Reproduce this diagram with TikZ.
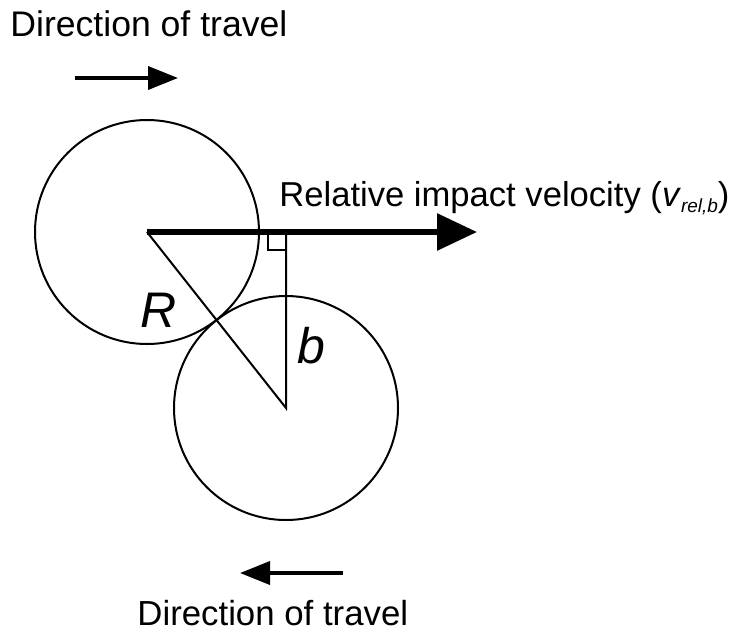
\documentclass[tikz,border=0pt]{standalone}
\usepackage{fontspec}
\setmainfont{Liberation Sans}
\usetikzlibrary{arrows.meta}
\tikzset{
  lbl/.style={inner sep=0pt, font=\fontsize{17.8}{20}\selectfont},
  sym/.style={inner sep=0pt, font=\fontsize{25}{30}\selectfont\itshape},
  ball/.style={circle, draw, line width=1pt, minimum size=112pt, inner sep=0pt},
  thinline/.style={line width=1pt},
  travel/.style={line width=1.8pt, -{Triangle[length=15pt, width=11.5pt]}},
  impact/.style={line width=3pt, -{Triangle[length=20pt, width=18pt]}}
}
\begin{document}
\begin{tikzpicture}[x=0.5pt, y=-0.5pt]
    \useasboundingbox (0,0) rectangle (731,633);
    % Direction of travel (top)
    \node[lbl, anchor=base west] (toptxt) at (10,36) {Direction of travel};
    \coordinate (topS) at (75,78);
    \coordinate (topE) at (178,78);
    \draw[travel] (topS) -- (topE);
    % Direction of travel (bottom)
    \node[lbl, anchor=base west, font=\fontsize{17.4}{20}\selectfont] (bottxt) at (137,625) {Direction of travel};
    \coordinate (botS) at (343,573);
    \coordinate (botE) at (240,573);
    \draw[travel] (botS) -- (botE);
    % Spheres
    \coordinate (c1) at (147,232);
    \coordinate (c2) at (286,408);
    \node[ball] (ball1) at (c1) {};
    \node[ball] (ball2) at (c2) {};
    % R and b
    \coordinate (foot) at (c2 |- c1);
    \draw[thinline] (c1) -- (c2) -- (foot);
    \draw[thinline] ([xshift=-9pt]foot) -- ([xshift=-9pt, yshift=-9pt]foot) -- ([yshift=-9pt]foot);
    \node[sym, anchor=base west] (rlbl) at (140,327) {R};
    \node[sym, anchor=base west] (blbl) at (297,363) {b};
    % Relative impact velocity
    \coordinate (vtip) at (477,232);
    \draw[impact] (c1) -- (vtip);
    \node[lbl, anchor=base west, font=\fontsize{17.3}{20}\selectfont] (vlbl) at (279,206)
        {Relative impact velocity (\textit{v}\raisebox{-3.3pt}{\fontsize{9.5}{10}\selectfont\itshape rel,b})};
\end{tikzpicture}
\end{document}
